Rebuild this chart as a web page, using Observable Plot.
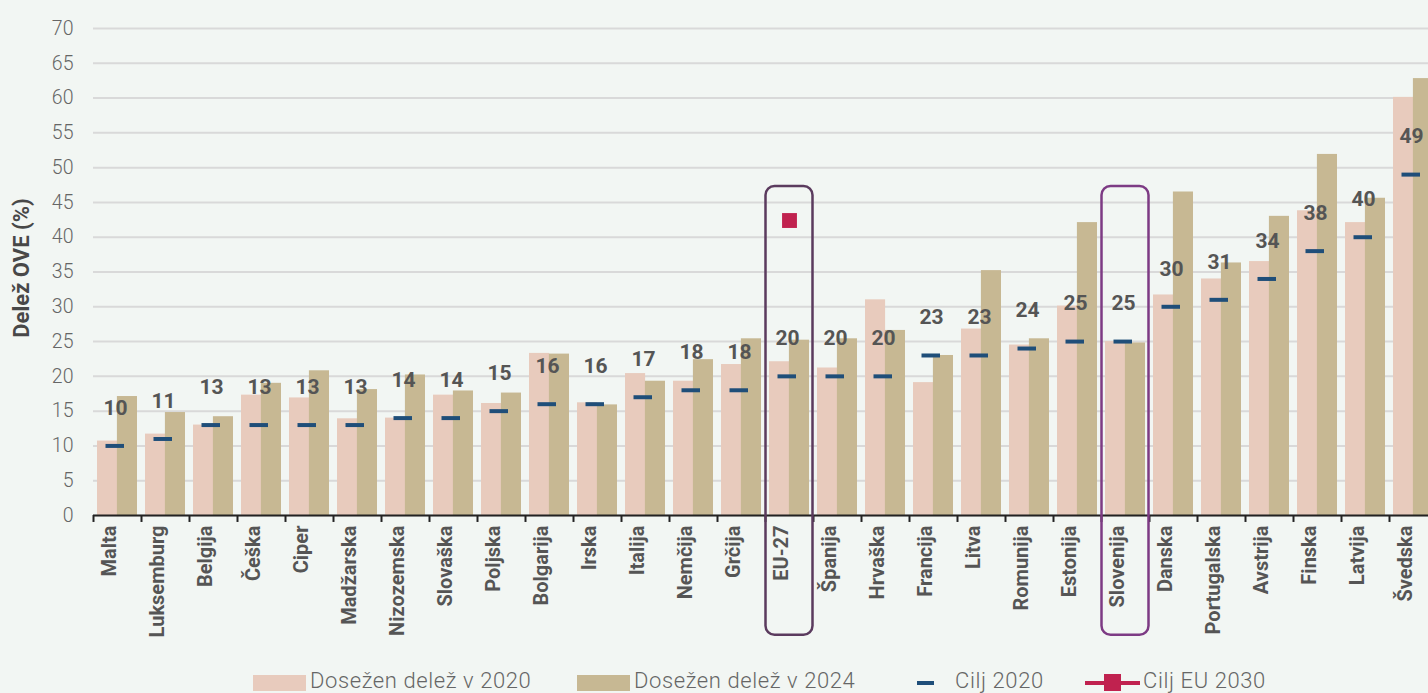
<!DOCTYPE html>
<html>
<head>
<meta charset="utf-8">
<script src="https://cdn.jsdelivr.net/npm/d3@7"></script>
<script src="https://cdn.jsdelivr.net/npm/@observablehq/plot@0.6"></script>
<style>
  html, body { margin: 0; padding: 0; background: #f2f6f3; overflow: hidden; }
  #wrap { position: relative; width: 1428px; height: 693px; overflow: hidden; }
  #chart svg { display: block; }
  .lg { position: absolute; font-family: Roboto, sans-serif; font-weight: 300; font-size: 22px; color: #666; letter-spacing: 0.6px; line-height: 22px; white-space: nowrap; }
  .sw { position: absolute; }
</style>
</head>
<body>
<div id="wrap">
  <div id="chart"></div>
  <div id="legend"></div>
</div>
<script>
// ---- data ----
const countries = ["Malta","Luksemburg","Belgija","Češka","Ciper","Madžarska","Nizozemska","Slovaška","Poljska","Bolgarija","Irska","Italija","Nemčija","Grčija","EU-27","Španija","Hrvaška","Francija","Litva","Romunija","Estonija","Slovenija","Danska","Portugalska","Avstrija","Finska","Latvija","Švedska"];
const share2020 = [10.7, 11.7, 13.0, 17.3, 16.9, 13.9, 14.0, 17.3, 16.1, 23.3, 16.2, 20.4, 19.3, 21.7, 22.1, 21.2, 31.0, 19.1, 26.8, 24.5, 30.1, 25.0, 31.7, 34.0, 36.5, 43.8, 42.1, 60.1];
const share2024 = [17.1, 14.8, 14.2, 19.0, 20.8, 18.1, 20.2, 17.9, 17.6, 23.2, 15.9, 19.3, 22.4, 25.4, 25.2, 25.4, 26.6, 23.0, 35.2, 25.4, 42.1, 24.8, 46.5, 36.3, 43.0, 51.9, 45.6, 62.8];
const target2020 = [10, 11, 13, 13, 13, 13, 14, 14, 15, 16, 16, 17, 18, 18, 20, 20, 20, 23, 23, 24, 25, 25, 30, 31, 34, 38, 40, 49];
const euTarget2030 = [{country: "EU-27", value: 42.4}];
const highlighted = ["EU-27", "Slovenija"];
const yTicks = [0, 5, 10, 15, 20, 25, 30, 35, 40, 45, 50, 55, 60, 65, 70];
const yLabel = "Delež OVE (%)";
const legendLabels = ["Dosežen delež v 2020", "Dosežen delež v 2024", "Cilj 2020", "Cilj EU 2030"];

// ---- colours ----
const C2020 = "#e8cbbd", C2024 = "#c7b893", CTARGET = "#1f4e79", C2030 = "#c0224f";
const boxColors = ["#5b3b5e", "#7d3b84"];

const rows2020 = countries.map((c, i) => ({country: c, value: share2020[i]}));
const rows2024 = countries.map((c, i) => ({country: c, value: share2024[i]}));
const rowsTarget = countries.map((c, i) => ({country: c, value: target2020[i]}));
const boxes = highlighted.map((c, i) => ({country: c, color: boxColors[i]}));

const chart = Plot.plot({
  width: 1428,
  height: 693,
  marginLeft: 93,
  marginRight: 0,
  marginTop: 28,
  marginBottom: 178,
  style: {background: "transparent", fontFamily: "Roboto, sans-serif", overflow: "hidden"},
  x: {domain: countries, range: [93, 1437], paddingInner: 0.17, paddingOuter: 0.085, axis: null},
  y: {domain: [0, 70], range: [515, 28], axis: null},
  marks: [
    Plot.ruleY(yTicks, {y: d => d, stroke: "#d9d9d9", strokeWidth: 2}),
    Plot.text(yTicks, {y: d => d, text: d => String(d), frameAnchor: "left", textAnchor: "end", dx: -20,
      fontSize: 19.5, fontWeight: 300, fill: "#666"}),
    Plot.text([yLabel], {text: d => d, frameAnchor: "left", textAnchor: "middle", rotate: -90, dx: -72, dy: -4,
      fontSize: 22, fontWeight: 700, fill: "#484848"}),
    Plot.barY(rows2020, {x: "country", y: "value", fill: C2020, insetRight: 19.9}),
    Plot.barY(rows2024, {x: "country", y: "value", fill: C2024, insetLeft: 19.9}),
    Plot.tickY(rowsTarget, {x: "country", y: "value", stroke: CTARGET, strokeWidth: 4, insetLeft: 8.5, insetRight: 13}),
    Plot.text(rowsTarget, {x: "country", y: "value", text: d => String(d.value), dy: -38, dx: -2,
      fontSize: 21, fontWeight: 700, fill: "#555"}),
    Plot.dot(euTarget2030, {x: "country", y: "value", symbol: "square", r: 8.4, fill: C2030, stroke: "none"}),
    Plot.ruleY([0], {y: d => d, stroke: "#222", strokeWidth: 2}),
    Plot.ruleX(countries, {x: d => d, dx: -24, y1: 0, y2: -1.0, stroke: "#222", strokeWidth: 2}),
    Plot.text(countries, {x: d => d, text: d => d, frameAnchor: "bottom", rotate: -90, textAnchor: "end",
      dy: 10, dx: -2, fontSize: 20, fontWeight: 700, fill: "#555"}),
    Plot.barY(boxes, {x: "country", y1: -17.2, y2: 47.3, fill: "none", stroke: "color", strokeWidth: 2.5,
      rx: 9, insetLeft: -3.5, insetRight: -3.5})
  ]
});
document.getElementById("chart").appendChild(chart);

// ---- legend (HTML, over the bottom of the svg) ----
const legend = document.getElementById("legend");
function el(cls, style, text) {
  const d = document.createElement("div");
  d.className = cls;
  Object.assign(d.style, style);
  if (text) d.textContent = text;
  legend.appendChild(d);
  return d;
}
el("sw", {left: "253px", top: "675px", width: "53px", height: "16px", background: C2020});
el("lg", {left: "310px", top: "670px"}, legendLabels[0]);
el("sw", {left: "577px", top: "675px", width: "53px", height: "16px", background: C2024});
el("lg", {left: "634px", top: "670px"}, legendLabels[1]);
el("sw", {left: "917px", top: "681px", width: "17px", height: "4px", background: CTARGET});
el("lg", {left: "955px", top: "670px"}, legendLabels[2]);
el("sw", {left: "1085px", top: "681px", width: "55px", height: "4px", background: C2030});
el("sw", {left: "1104px", top: "674px", width: "17px", height: "17px", background: C2030});
el("lg", {left: "1143px", top: "670px"}, legendLabels[3]);
</script>
</body>
</html>
